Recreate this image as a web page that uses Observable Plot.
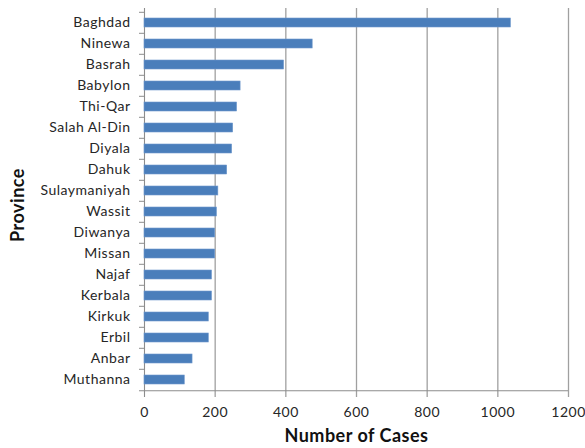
<!DOCTYPE html>
<html><head><meta charset="utf-8">
<script src="https://cdn.jsdelivr.net/npm/d3@7"></script>
<script src="https://cdn.jsdelivr.net/npm/@observablehq/plot@0.6"></script>
<style>
body{margin:0;background:#fff}
svg{font-family:Lato,"Open Sans",sans-serif}
svg text{letter-spacing:0.5px}
</style>
</head><body><div id="chart"></div>
<script>
const provinces = ["Baghdad","Ninewa","Basrah","Babylon","Thi-Qar","Salah Al-Din","Diyala","Dahuk","Sulaymaniyah","Wassit","Diwanya","Missan","Najaf","Kerbala","Kirkuk","Erbil","Anbar","Muthanna"];
const cases = [1037,476,395,272,262,251,248,234,209,205,200,200,191,191,182,182,136,114];
const xTicks = [0,200,400,600,800,1000,1200];
const xTitle = "Number of Cases";
const yTitle = "Province";

const data = provinces.map((p,i)=>({province:p, cases:cases[i]}));

const W = 585, H = 448, mL = 144, mR = 17, mT = 8, mB = 55;
const step = (H - mT - mB) / provinces.length;
const plotW = W - mL - mR;
const axisGray = "#8c8c8c";

const chart = Plot.plot({
  width: W, height: H,
  marginLeft: mL, marginRight: mR, marginTop: mT, marginBottom: mB,
  style: {fontSize: "14px", color: "#262626", background: "#fff", fontFamily: "Lato, 'Open Sans', sans-serif"},
  x: {domain: [0, 1200], ticks: xTicks, tickSize: 0, tickPadding: 14, label: null, tickFormat: d => String(d)},
  y: {domain: provinces, paddingInner: 0.58, paddingOuter: 0.29, tickSize: 0, tickPadding: 14, label: null},
  marks: [
    Plot.ruleX(xTicks.slice(1), {stroke: "#a0a0a0", strokeWidth: 1.3, insetBottom: -4}),
    Plot.ruleX(xTicks.slice(0,1), {stroke: axisGray, strokeWidth: 1.1, insetBottom: -4}),
    Plot.ruleY(provinces, {y: d => d, dy: -step/2, insetLeft: -5, insetRight: plotW, stroke: axisGray}),
    Plot.ruleY(provinces.slice(-1), {y: d => d, dy: step/2, insetLeft: -5, stroke: axisGray, strokeWidth: 1.1}),
    Plot.barX(data, {y: "province", x: "cases", fill: "#4a7ebb", stroke: "#6f98cc", strokeWidth: 0.6}),
    Plot.text([xTitle], {frameAnchor: "bottom", lineAnchor: "middle", textAnchor: "middle", dy: 43, fontWeight: "bold", fontSize: 18, fill: "#111"}),
    Plot.text([yTitle], {frameAnchor: "left", lineAnchor: "middle", textAnchor: "middle", dx: -126, dy: 4, rotate: -90, fontWeight: "bold", fontSize: 18, fill: "#111"})
  ]
});
document.getElementById("chart").appendChild(chart);
</script>
</body></html>
